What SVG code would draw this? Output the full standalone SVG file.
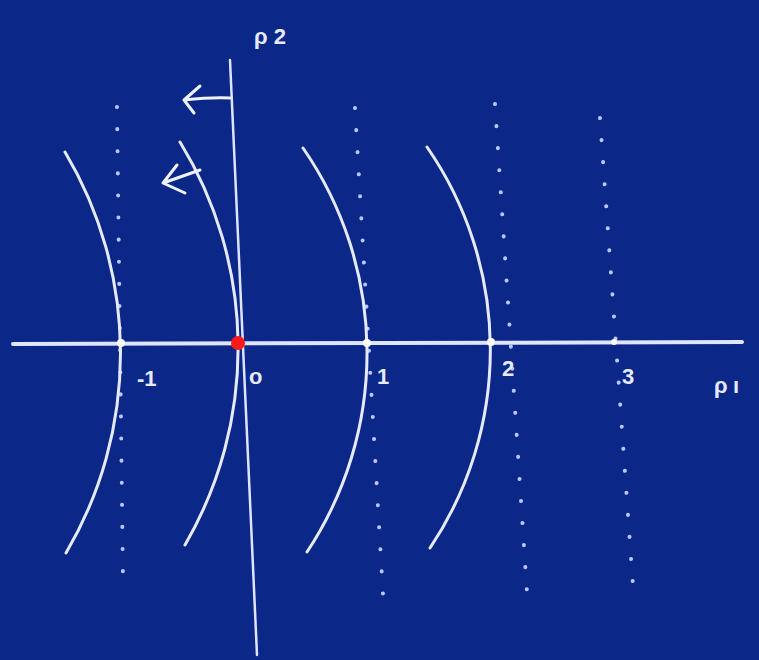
<svg xmlns="http://www.w3.org/2000/svg" width="759" height="660" viewBox="0 0 759 660">
<style>
.ax{stroke:#dfe4ff;fill:none;stroke-linecap:round}
.arc{stroke:#e6eaff;stroke-width:3;fill:none;stroke-linecap:round}
.dot{stroke:#b9c6ff;stroke-width:4;fill:none;stroke-linecap:round;stroke-dasharray:0.1 22}
.lbl{font-family:"Liberation Sans",Arial,sans-serif;font-size:22px;font-weight:bold;fill:#e6eaff}
.arr{stroke:#eef1ff;stroke-width:3;fill:none;stroke-linecap:round;stroke-linejoin:round}
</style>
<rect width="759" height="660" fill="#0b2788"/>
<g id="connectors">
<path class="ax" stroke-width="4" d="M13 344 L742 342"/>
<path class="ax" stroke-width="2.5" d="M230 60 L257 655"/>
<path class="dot" d="M117 107 L123 580"/>
<path class="dot" d="M355 108 L383 594"/>
<path class="dot" d="M495 104 L527 592"/>
<path class="dot" d="M600 118 L634 600"/>
</g>
<g id="arc-m1"><path class="arc" d="M65 152 A393 393 0 0 1 66 553"/></g>
<g id="arc-0"><path class="arc" d="M180 142 A393 393 0 0 1 185 545"/></g>
<g id="arc-1"><path class="arc" d="M303 148 A360 360 0 0 1 307 552"/></g>
<g id="arc-2"><path class="arc" d="M427 147 A356 356 0 0 1 430 548"/></g>
<g id="arrow-1"><path class="arr" d="M230 98 Q212 97 184 100 M200 86 L184 100 L194 113"/></g>
<g id="arrow-2"><path class="arr" d="M200 170 L163 183 M177 165 L163 183 L185 193"/></g>
<g id="points">
<circle cx="121" cy="343" r="4" fill="#ffffff"/>
<circle cx="367" cy="343" r="4" fill="#ffffff"/>
<circle cx="491" cy="342" r="4" fill="#ffffff"/>
<circle cx="614" cy="342" r="3" fill="#ffffff"/>
<circle cx="238" cy="343" r="7" fill="#ff1a1a"/>
</g>
<g id="labels">
<text class="lbl" x="254" y="44">ρ 2</text>
<text class="lbl" x="714" y="393">ρ</text>
<text class="lbl" x="733" y="393" font-size="18">ı</text>
<text class="lbl" x="137" y="386">-1</text>
<text class="lbl" x="249" y="384">o</text>
<text class="lbl" x="377" y="384">1</text>
<text class="lbl" x="502" y="376">2</text>
<text class="lbl" x="622" y="384">3</text>
</g>
</svg>
